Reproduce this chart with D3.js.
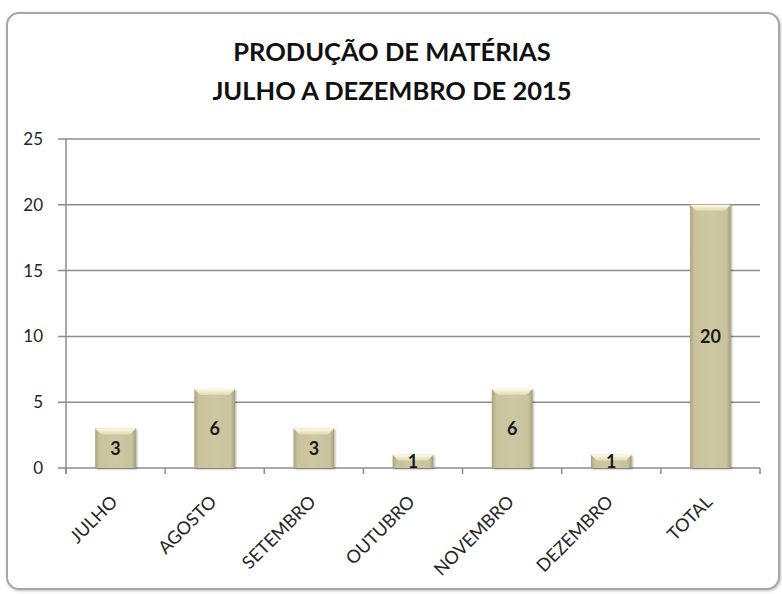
<!DOCTYPE html>
<html>
<head>
<meta charset="utf-8">
<script src="https://cdn.jsdelivr.net/npm/d3@7"></script>
<style>
  body { margin: 0; background: #fff; }
  text { font-family: Lato, "Open Sans", sans-serif; }
</style>
</head>
<body>
<svg id="chart" width="782" height="594"></svg>
<script>
// chart data
var titleLines = ["PRODUÇÃO DE MATÉRIAS", "JULHO A DEZEMBRO DE 2015"];
var categories = ["JULHO", "AGOSTO", "SETEMBRO", "OUTUBRO", "NOVEMBRO", "DEZEMBRO", "TOTAL"];
var values = [3, 6, 3, 1, 6, 1, 20];
var yTicks = [0, 5, 10, 15, 20, 25];

var svg = d3.select("#chart");
var plotLeft = 66, plotRight = 760, plotTop = 139, plotBottom = 468;

// shadow + gradients
var defs = svg.append("defs");
var sh = defs.append("filter").attr("id", "shadow")
    .attr("x", "-20%").attr("y", "-20%").attr("width", "140%").attr("height", "140%");
sh.append("feDropShadow").attr("dx", 1).attr("dy", 1).attr("stdDeviation", 1.2)
    .attr("flood-color", "#000").attr("flood-opacity", 0.35);

var frameSh = defs.append("filter").attr("id", "frameShadow")
    .attr("x", "-5%").attr("y", "-5%").attr("width", "110%").attr("height", "110%");
frameSh.append("feDropShadow").attr("dx", 1).attr("dy", 1).attr("stdDeviation", 1.5)
    .attr("flood-color", "#000").attr("flood-opacity", 0.25);

var grad = defs.append("linearGradient").attr("id", "barGrad")
    .attr("x1", "0").attr("x2", "1").attr("y1", "0").attr("y2", "0");
grad.append("stop").attr("offset", "0").attr("stop-color", "#a9a47e");
grad.append("stop").attr("offset", "0.1").attr("stop-color", "#c8c39c");
grad.append("stop").attr("offset", "0.5").attr("stop-color", "#cdc8a2");
grad.append("stop").attr("offset", "0.9").attr("stop-color", "#c8c39c");
grad.append("stop").attr("offset", "1").attr("stop-color", "#a29d78");

var hiGrad = defs.append("linearGradient").attr("id", "hiGrad")
    .attr("x1", "0").attr("x2", "0").attr("y1", "0").attr("y2", "1");
hiGrad.append("stop").attr("offset", "0").attr("stop-color", "#fffbe4");
hiGrad.append("stop").attr("offset", "1").attr("stop-color", "#ddd8b2");

// outer frame
svg.append("rect")
    .attr("x", 7).attr("y", 13).attr("width", 772).attr("height", 576)
    .attr("rx", 12)
    .attr("fill", "#fff").attr("stroke", "#a6a6a6").attr("stroke-width", 2)
    .attr("filter", "url(#frameShadow)");

// title
svg.append("g").selectAll("text").data(titleLines).enter().append("text")
    .attr("x", 392)
    .attr("y", function(d, i){ return 61 + i * 39; })
    .attr("text-anchor", "middle")
    .attr("font-size", 25.5)
    .attr("font-weight", "bold")
    .attr("fill", "#111")
    .text(function(d){ return d; });

var x = d3.scaleBand().domain(categories).range([plotLeft, plotRight])
    .paddingInner(0.59).paddingOuter(0.295);
var y = d3.scaleLinear().domain([0, 25]).range([plotBottom, plotTop]);
var tickX = d3.scaleLinear().domain([0, categories.length]).range([plotLeft, plotRight]);

// gridlines
svg.append("g").selectAll("line").data(yTicks).enter().append("line")
    .attr("x1", plotLeft - 8).attr("x2", plotRight)
    .attr("y1", function(d){ return y(d); }).attr("y2", function(d){ return y(d); })
    .attr("stroke", "#8c8c8c").attr("stroke-width", 1.5);

// y axis line
svg.append("line")
    .attr("x1", plotLeft).attr("x2", plotLeft).attr("y1", plotTop).attr("y2", plotBottom + 6)
    .attr("stroke", "#8c8c8c").attr("stroke-width", 1.5);

// y labels
svg.append("g").selectAll("text").data(yTicks).enter().append("text")
    .attr("x", 43)
    .attr("y", function(d){ return y(d) + 6; })
    .attr("text-anchor", "end")
    .attr("font-size", 17)
    .attr("fill", "#262626")
    .text(function(d){ return d; });

// x ticks at band edges
svg.append("g").selectAll("line").data(d3.range(categories.length + 1)).enter().append("line")
    .attr("x1", function(d){ return tickX(d); }).attr("x2", function(d){ return tickX(d); })
    .attr("y1", plotBottom).attr("y2", plotBottom + 6)
    .attr("stroke", "#8c8c8c").attr("stroke-width", 1.5);

// bars
var bars = svg.append("g").selectAll("g").data(values).enter().append("g");

bars.append("rect")
    .attr("x", function(d, i){ return x(categories[i]); })
    .attr("y", function(d){ return y(d); })
    .attr("width", x.bandwidth())
    .attr("height", function(d){ return plotBottom - y(d); })
    .attr("fill", "url(#barGrad)")
    .attr("filter", "url(#shadow)");

// bevel on top
bars.append("path")
    .attr("d", function(d, i){
        var x0 = x(categories[i]), w = x.bandwidth(), y0 = y(d);
        var b = Math.min(6, (plotBottom - y0) / 2);
        return "M" + x0 + "," + y0 + "H" + (x0 + w) +
            "L" + (x0 + w - b) + "," + (y0 + b) + "H" + (x0 + b) + "Z";
    })
    .attr("fill", "url(#hiGrad)");

// value labels
bars.append("text")
    .attr("x", function(d, i){ return x(categories[i]) + x.bandwidth() / 2; })
    .attr("y", function(d){ return (y(d) + plotBottom) / 2 + 6.5; })
    .attr("text-anchor", "middle")
    .attr("font-size", 18)
    .attr("font-weight", "bold")
    .attr("fill", "#1a1a1a")
    .text(function(d){ return d; });

// category labels
svg.append("g").selectAll("text").data(categories).enter().append("text")
    .attr("transform", function(d){
        return "translate(" + (x(d) + x.bandwidth() / 2 + 3) + "," + (plotBottom + 35) + ") rotate(-45)";
    })
    .attr("text-anchor", "end")
    .attr("font-size", 18)
    .attr("fill", "#262626")
    .text(function(d){ return d; });
</script>
</body>
</html>
